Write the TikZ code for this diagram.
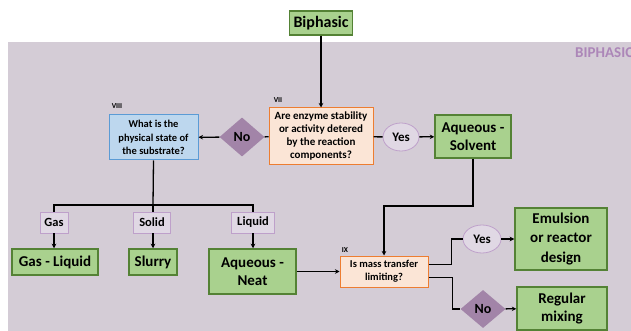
\documentclass[tikz,border=0pt]{standalone}
\usepackage{fontspec}
\setmainfont{Carlito}
\usepackage{tikz}
\usetikzlibrary{shapes.geometric}
\usetikzlibrary{arrows.meta}
\definecolor{bgcol}{RGB}{212,204,214}
\definecolor{grnfill}{RGB}{169,209,142}
\definecolor{grnline}{RGB}{84,130,53}
\definecolor{orgfill}{RGB}{251,229,214}
\definecolor{orgline}{RGB}{237,125,49}
\definecolor{blufill}{RGB}{189,215,238}
\definecolor{bluline}{RGB}{91,155,213}
\definecolor{purfill}{RGB}{162,132,168}
\definecolor{lilfill}{RGB}{224,216,228}
\definecolor{lilline}{RGB}{190,160,202}
\definecolor{tagcol}{RGB}{172,134,184}
\tikzset{
  greenbox/.style={draw=grnline, fill=grnfill, line width=1.5pt, inner sep=0pt, align=center,
    font=\bfseries\fontsize{15}{18}\selectfont},
  orangebox/.style={draw=orgline, fill=orgfill, line width=1pt, inner sep=0pt, align=center,
    font=\bfseries\fontsize{11}{13}\selectfont},
  bluebox/.style={draw=bluline, fill=blufill, line width=1pt, inner sep=0pt, align=center,
    font=\bfseries\fontsize{10.5}{13.5}\selectfont},
  nodiamond/.style={shape=diamond, fill=purfill, inner sep=0pt, minimum width=45pt, minimum height=39pt,
    font=\bfseries\fontsize{14}{16}\selectfont},
  yesoval/.style={shape=ellipse, draw=lilline, fill=lilfill, line width=0.8pt, inner sep=0pt,
    font=\bfseries\fontsize{13}{15}\selectfont},
  statebox/.style={draw=lilline, fill=lilfill, line width=0.8pt, inner sep=0pt, minimum height=21pt,
    font=\bfseries\fontsize{12.5}{14}\selectfont},
  roman/.style={font=\bfseries\fontsize{7.5}{8}\selectfont, inner sep=0pt},
  link/.style={line width=1.3pt},
  arr/.style={line width=1.3pt, -{Stealth[length=4.5pt,width=4.5pt]}}
}
\begin{document}
\begin{tikzpicture}[x=1pt,y=-1pt]
        \useasboundingbox (0,0) rectangle (631,331);
        \fill[bgcol] (8,42) rectangle (631,331);
        \node[anchor=west, text=tagcol, inner sep=0pt, font=\bfseries\fontsize{15}{17}\selectfont] (tag) at (575,52.5) {BIPHASIC};

        % top
        \node[greenbox, minimum width=63pt, minimum height=24pt, font=\bfseries\fontsize{16}{18}\selectfont] (biphasic) at (321,23) {Biphasic};
        \node[orangebox, minimum width=104pt, minimum height=57pt] (vii) at (321,136.5)
            {Are enzyme stability\\or activity detered\\by the reaction\\components?};
        \node[roman] (viilab) at (278,100) {VII};
        \node[nodiamond] (no1) at (242,137) {No};
        \node[bluebox, minimum width=89pt, minimum height=45pt] (viii) at (153.5,137.5)
            {What is the\\physical state of\\the substrate?};
        \node[roman] (viiilab) at (117,106) {VIII};
        \node[yesoval, minimum width=36pt, minimum height=28pt] (yes1) at (401,137) {Yes};
        \node[greenbox, minimum width=76pt, minimum height=43pt] (solvent) at (473,136.5) {Aqueous -\\Solvent};

        % states
        \node[statebox, minimum width=28pt] (gas) at (54,222.5) {Gas};
        \node[statebox, minimum width=37pt] (solid) at (152,222.5) {Solid};
        \node[statebox, minimum width=43pt] (liquid) at (253,222.5) {Liquid};
        \node[greenbox, minimum width=86pt, minimum height=26pt] (gasliq) at (55,262) {Gas - Liquid};
        \node[greenbox, minimum width=48pt, minimum height=26pt] (slurry) at (153,262) {Slurry};
        \node[greenbox, minimum width=87pt, minimum height=45pt] (neat) at (252.5,271.5) {Aqueous -\\Neat};

        % mass transfer
        \node[orangebox, minimum width=88pt, minimum height=31pt, font=\bfseries\fontsize{10.5}{12.7}\selectfont] (ix) at (384,271.5) {Is mass transfer\\limiting?};
        \node[roman] (ixlab) at (345,250) {IX};
        \node[yesoval, minimum width=38pt, minimum height=28pt] (yes2) at (482,239) {Yes};
        \node[greenbox, minimum width=92pt, minimum height=62pt, font=\bfseries\fontsize{15}{19.5}\selectfont] (emul) at (561,239)
            {Emulsion\\or reactor\\design};
        \node[nodiamond, minimum height=38pt] (no2) at (483,309) {No};
        \node[greenbox, minimum width=90pt, minimum height=43pt] (regular) at (562,308.5) {Regular\\mixing};

        \coordinate (bar) at (153,205);
        \coordinate (jn) at (384,206);

        % connectors
        \draw[arr] (biphasic) -- (vii);
        \draw[link] (vii) -- (no1);
        \draw[arr] (no1) -- (viii);
        \draw[link] (vii) -- (yes1);
        \draw[arr] (yes1) -- (solvent);
        \draw[arr] (solvent.south) |- (jn) -- (ix.north);
        \draw[link] (viii.south) -- (bar);
        \draw[link] (gas.north) |- (bar) -| (liquid.north);
        \draw[link] (bar) -- (solid.north -| bar);
        \draw[arr] (gas) -- (gas |- gasliq.north);
        \draw[arr] (solid.south -| bar) -- (slurry.north);
        \draw[arr] (liquid) -- (liquid |- neat.north);
        \draw[arr] (neat) -- (ix);
        \draw[link] ([yshift=7pt]ix.east) -- ++(23pt,0) |- (yes2.west);
        \draw[arr] (yes2) -- (emul);
        \draw[link] ([yshift=-6pt]ix.east) -- ++(24pt,0) |- (no2.west);
        \draw[arr] (no2) -- (regular);
    \end{tikzpicture}
\end{document}
